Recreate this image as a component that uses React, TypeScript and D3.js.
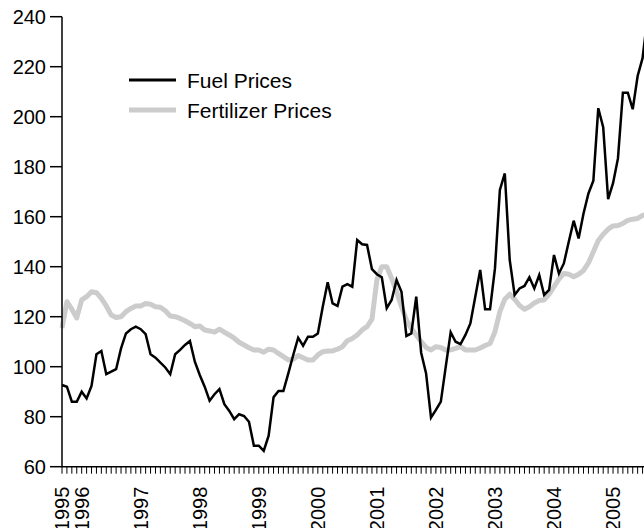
import React from "react";
import * as d3 from "d3";

// monthly index values, Sep 1995 .. Aug 2005
const fuelPrices = [
  92.7, 92, 86, 86, 90, 87.3, 92.3, 105, 106.3, 97, 98, 99,
  107.3, 113.3, 115, 116, 115, 113, 105, 103.6, 101.6, 99.7, 97, 105,
  106.7, 108.7, 110.3, 102, 96.7, 92, 86.4, 89, 91, 85, 82.3, 79,
  81, 80.3, 78, 68.4, 68.4, 66.3, 72.4, 87.8, 90.3, 90.3, 97.3, 104.7,
  111.6, 108.4, 112, 112, 113.3, 124, 133.8, 125.3, 124.3, 132, 133, 132,
  150.7, 149, 148.7, 139, 137, 135.8, 123.4, 126.7, 134.7, 130, 112.3, 113.3,
  128, 105.6, 97.3, 79.6, 82.7, 86, 100, 113.8, 110, 109, 112.7, 117.3,
  128, 138.7, 123, 123, 139.3, 170.7, 177.3, 142.7, 128.7, 131.3, 132.3, 135.8,
  131.3, 136.7, 128.7, 130.7, 144.7, 137.3, 141.3, 150, 158.4, 151.3, 161.3, 169.3,
  174.4, 203.4, 195.8, 167, 173.4, 183.3, 209.6, 209.6, 203, 216.3, 223.4, 240,
];

const fertilizerPrices = [
  115.5, 126, 123, 119.5, 126.7, 128, 130, 129.6, 127.3, 124.3, 120.7, 119.7,
  120, 122, 123.3, 124.3, 124.3, 125.3, 125, 124, 123.8, 122.4, 120.3, 120,
  119.3, 118.4, 117.3, 116, 116.3, 114.7, 114.3, 113.8, 115, 113.8, 112.7, 111.4,
  109.8, 108.7, 107.6, 106.7, 106.7, 105.8, 107, 106.7, 105.3, 104, 102.7, 103,
  104.5, 103.6, 102.7, 102.7, 104.7, 106, 106.3, 106.3, 107, 108, 110.4, 111.3,
  112.7, 114.7, 116, 119, 134.7, 140, 140, 135.3, 130, 124, 118.7, 115.3,
  112.7, 110, 107.7, 106.7, 108, 107.7, 106.7, 106.7, 107.3, 108, 106.7, 106.7,
  106.7, 107.5, 108.5, 109.3, 114, 122, 127, 129, 127, 124.5, 123, 124,
  125.5, 126.5, 126.7, 129, 132, 135, 137.3, 137, 136, 137, 138.5, 141.5,
  146, 150.5, 153, 155, 156.3, 156.5, 157.3, 158.5, 159, 159.3, 160.5, 161,
];

const yearLabels = ["1995", "1996", "1997", "1998", "1999", "2000", "2001", "2002", "2003", "2004", "2005"];
const yearMonthIndex = [0, 4, 16, 28, 40, 52, 64, 76, 88, 100, 112];
const yTicks = [60, 80, 100, 120, 140, 160, 180, 200, 220, 240];

const width = 644;
const height = 528;
const fuelColor = "#000000";
const fertColor = "#cccccc";
const font = "'Liberation Sans', Arial, Helvetica, sans-serif";

export default function App() {
  const x = d3.scaleLinear().domain([0, 119]).range([62, 62 + 119 * 4.92]);
  const y = d3.scaleLinear().domain([60, 240]).range([466.7, 16.7]);

  const line = d3
    .line<number>()
    .x((d, i) => x(i))
    .y((d) => y(d));

  const months = d3.range(fuelPrices.length);
  const x0 = x(0);
  const yBase = y(60);

  return (
    <svg
      width={width}
      height={height}
      style={{ position: "absolute", left: 0, top: 0, background: "#fff" }}
      fontFamily={font}
    >
      <path d={line(fertilizerPrices) || ""} fill="none" stroke={fertColor} strokeWidth={5} strokeLinejoin="round" />
      <path d={line(fuelPrices) || ""} fill="none" stroke={fuelColor} strokeWidth={2.5} strokeLinejoin="miter" />

      {/* y axis */}
      <line x1={x0} x2={x0} y1={y(240)} y2={yBase} stroke="#000" strokeWidth={1.5} />
      {yTicks.map((t) => (
        <g key={t}>
          <line x1={x0 - 12} x2={x0} y1={y(t)} y2={y(t)} stroke="#000" strokeWidth={1.5} />
          <text x={x0 - 16} y={y(t)} dy="0.36em" textAnchor="end" fontSize={20} fill="#000">
            {t}
          </text>
        </g>
      ))}

      {/* x axis */}
      <line x1={x0} x2={width} y1={yBase} y2={yBase} stroke="#000" strokeWidth={1.5} />
      {months.map((m) => (
        <line key={m} x1={x(m)} x2={x(m)} y1={yBase} y2={yBase + 7} stroke="#000" strokeWidth={1} />
      ))}
      {yearLabels.map((lab, i) => (
        <text
          key={lab}
          transform={`translate(${x(yearMonthIndex[i])},${yBase + 20}) rotate(-90)`}
          dy="0.36em"
          textAnchor="end"
          fontSize={20}
          fill="#000"
        >
          {lab}
        </text>
      ))}

      {/* legend */}
      <line x1={129} x2={176} y1={80} y2={80} stroke={fuelColor} strokeWidth={3} />
      <text x={187} y={80} dy="0.36em" fontSize={21} fill="#000">Fuel Prices</text>
      <line x1={129} x2={176} y1={110} y2={110} stroke={fertColor} strokeWidth={5} />
      <text x={187} y={110} dy="0.36em" fontSize={21} fill="#000">Fertilizer Prices</text>
    </svg>
  );
}
